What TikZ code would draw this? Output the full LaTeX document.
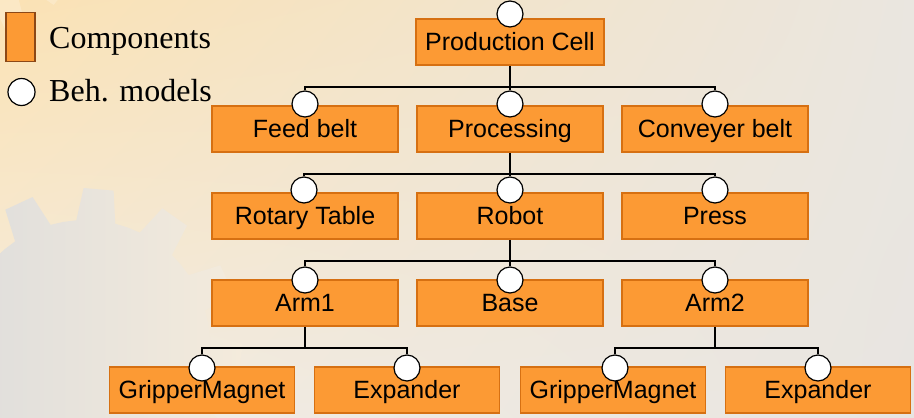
\documentclass[tikz,border=0pt]{standalone}
\usepackage{fontspec}
\usetikzlibrary{shadings}
\setmainfont{Liberation Serif}
\newfontfamily\boxfont{Liberation Sans}

\definecolor{boxfill}{RGB}{252,154,52}
\definecolor{boxline}{RGB}{214,112,18}
\definecolor{legline}{RGB}{140,72,22}
\definecolor{bgUL}{RGB}{251,226,180}
\definecolor{bgUR}{RGB}{234,230,224}
\definecolor{bgLL}{RGB}{244,237,226}
\definecolor{bgLR}{RGB}{232,229,225}
\definecolor{gearL}{RGB}{220,220,220}
\definecolor{gearR}{RGB}{244,235,220}

\tikzset{
  comp/.style={draw=boxline, fill=boxfill, line width=1.5pt,
    minimum width=186pt, minimum height=46pt, inner sep=0pt,
    text height=18pt, text depth=2pt,
    font=\boxfont\fontsize{25}{28}\selectfont},
  beh/.style={circle, draw=black, fill=white, line width=1.2pt,
    minimum size=26pt, inner sep=0pt},
  wire/.style={draw=black, line width=1.6pt},
  legtext/.style={anchor=base west, inner sep=0pt,
    font=\fontsize{32}{36}\selectfont},
}

\begin{document}
\begin{tikzpicture}[x=1pt,y=-1pt]
\useasboundingbox (0,0) rectangle (914,418);

% background
\shade[upper left=bgUL, upper right=bgUR, lower left=bgLL, lower right=bgLR]
  (0,0) rectangle (914,418);

% watermark gears
\begin{scope}[shift={(85,345)}]
  \shade[left color=gearL, middle color=gearL, right color=gearR]
    (266:125)
    \foreach \a in {275,305,...,605} {
      -- (\a-9:125) -- (\a-5.5:157) -- (\a+5.5:157) -- (\a+9:125)
      -- (\a+15:125) -- (\a+21:125)
    } -- cycle;
\end{scope}
\begin{scope}[shift={(-20,-70)}]
  \fill[white, opacity=0.22]
    (0:80)
    \foreach \a in {10,40,...,370} {
      -- (\a-9:80) -- (\a-5.5:105) -- (\a+5.5:105) -- (\a+9:80)
      -- (\a+15:80) -- (\a+21:80)
    } -- cycle;
\end{scope}

% legend
\node[fill=boxfill, draw=legline, line width=1.2pt, minimum width=29pt,
  minimum height=49pt, inner sep=0pt] (legC) at (20.5,37) {};
\node[legtext] (legCt) at (49,48) {Components};
\node[beh, minimum size=27pt] (legB) at (21.5,92) {};
\node[legtext] (legBt) at (49,101) {Beh. models};

% components
\node[comp, minimum width=188pt] (pc) at (510,42) {Production Cell};

\node[comp] (fb)   at (305,129) {Feed belt};
\node[comp] (proc) at (510,129) {Processing};
\node[comp] (cb)   at (715,129) {Conveyer belt};

\node[comp] (rt)    at (305,216) {Rotary Table};
\node[comp] (rob)   at (510,216) {Robot};
\node[comp] (press) at (715,216) {Press};

\node[comp] (arm1) at (305,303) {Arm1};
\node[comp] (base) at (510,303) {Base};
\node[comp] (arm2) at (715,303) {Arm2};

\node[comp, minimum width=185pt] (gm1) at (202,390) {GripperMagnet};
\node[comp, minimum width=185pt] (ex1) at (407,390) {Expander};
\node[comp, minimum width=185pt] (gm2) at (613,390) {GripperMagnet};
\node[comp, minimum width=185pt] (ex2) at (818,390) {Expander};

% behaviour models
\node[beh] (pcB) at (510,14) {};

\node[beh] (fbB)   at (305,104) {};
\node[beh] (procB) at (510,104) {};
\node[beh] (cbB)   at (715,104) {};

\node[beh] (rtB)  at (304,190) {};
\node[beh] (robB) at (510,190) {};
\node[beh] (prB)  at (715,190) {};

\node[beh] (arm1B) at (305,280) {};
\node[beh] (baseB) at (510,280) {};
\node[beh] (arm2B) at (715,280) {};

\node[beh] (gm1B) at (202,368) {};
\node[beh] (ex1B) at (407,368) {};
\node[beh] (gm2B) at (615,368) {};
\node[beh] (ex2B) at (818,368) {};

% containment tree
\draw[wire] (pc.south) -- ++(0,21) coordinate (bus1);
\draw[wire] (fbB.north) |- (bus1) -| (cbB.north);
\draw[wire] (bus1) -- (procB.north);

\draw[wire] (proc.south) -- ++(0,21) coordinate (bus2);
\draw[wire] (rtB.north) |- (bus2) -| (prB.north);
\draw[wire] (bus2) -- (robB.north);

\draw[wire] (rob.south) -- ++(0,21) coordinate (bus3);
\draw[wire] (arm1B.north) |- (bus3) -| (arm2B.north);
\draw[wire] (bus3) -- (baseB.north);

\draw[wire] (arm1.south) -- ++(0,21) coordinate (bus4);
\draw[wire] (gm1B.north) |- (bus4) -| (ex1B.north);

\draw[wire] (arm2.south) -- ++(0,21) coordinate (bus5);
\draw[wire] (gm2B.north) |- (bus5) -| (ex2B.north);
\end{tikzpicture}
\end{document}
